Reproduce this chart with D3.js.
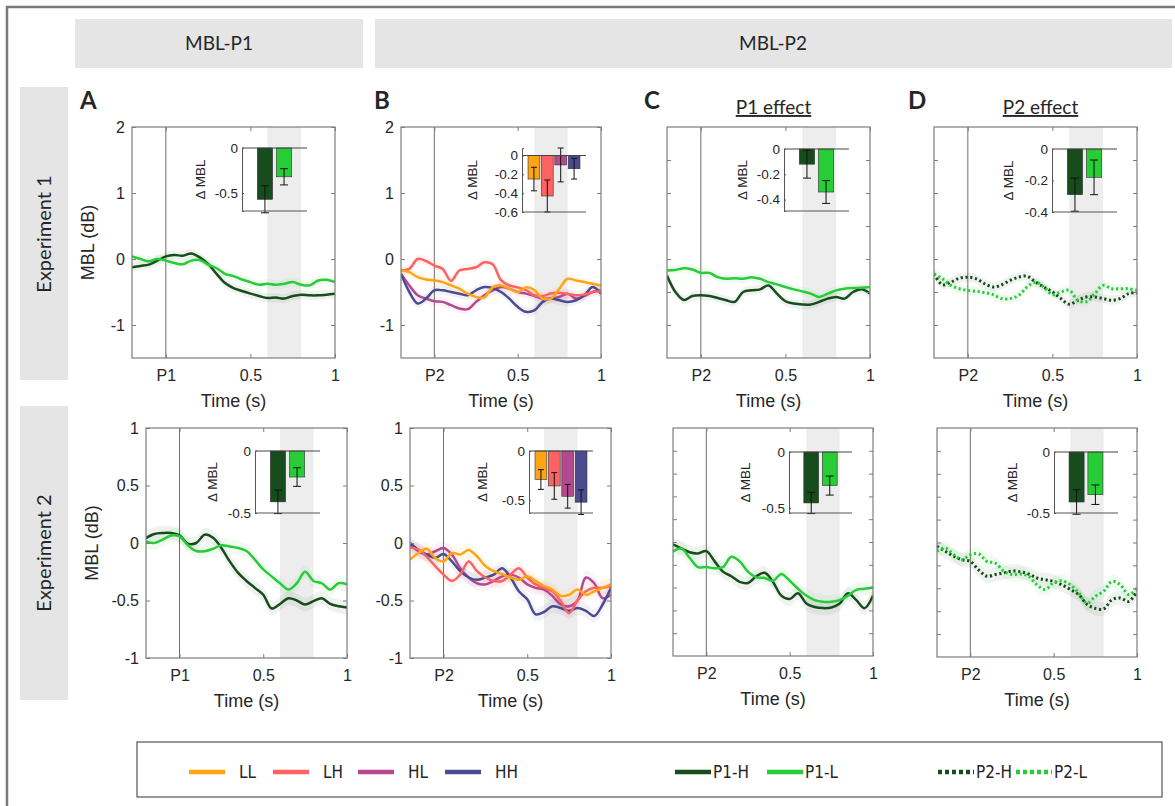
<!DOCTYPE html>
<html>
<head>
<meta charset="utf-8">
<script src="https://cdn.jsdelivr.net/npm/d3@7"></script>
<style>
body { margin: 0; background: #fff; }
svg text { font-family: "Liberation Sans", Arial, sans-serif; fill: #262626; }
svg text.cal { font-family: Lato, "Open Sans", sans-serif; }
svg text.narrow { font-family: "Liberation Sans Narrow", "DejaVu Sans Condensed", sans-serif; font-stretch: condensed; }
</style>
</head>
<body>
<svg id="fig" width="1175" height="806"></svg>
<script>
// time axis (s), 0 = tone onset (P1 or P2)
var timeGrid = [-0.2, -0.15, -0.1, -0.05, 0, 0.05, 0.1, 0.15, 0.2, 0.25, 0.3, 0.35, 0.4,
                0.45, 0.5, 0.55, 0.6, 0.65, 0.7, 0.75, 0.8, 0.85, 0.9, 0.95, 1];
var winStart = 0.6, winEnd = 0.8;   // analysis window (grey)

// ---- Experiment 1 ----
var e1A_P1H = [-0.125,-0.105,-0.085,-0.025,0.04,0.06,0.05,0.085,0.025,-0.075,-0.225,-0.365,-0.44,-0.485,-0.525,-0.56,-0.59,-0.585,-0.6,-0.56,-0.54,-0.55,-0.55,-0.54,-0.525];
var e1A_P1L = [0.04,0,-0.035,0,-0.025,-0.06,-0.08,-0.025,-0.015,-0.085,-0.14,-0.225,-0.26,-0.31,-0.35,-0.39,-0.375,-0.39,-0.375,-0.35,-0.39,-0.4,-0.325,-0.315,-0.35];

var e1B_LL = [-0.175,-0.2,-0.275,-0.31,-0.325,-0.35,-0.4,-0.45,-0.525,-0.575,-0.58,-0.43,-0.4,-0.45,-0.5,-0.43,-0.47,-0.6,-0.6,-0.45,-0.3,-0.325,-0.35,-0.375,-0.4];
var e1B_LH = [-0.175,-0.15,0.0,-0.03,-0.1,-0.15,-0.33,-0.175,-0.15,-0.125,-0.05,-0.08,-0.32,-0.4,-0.43,-0.47,-0.55,-0.56,-0.52,-0.51,-0.53,-0.55,-0.54,-0.5,-0.49];
var e1B_HL = [-0.225,-0.4,-0.55,-0.6,-0.64,-0.65,-0.7,-0.75,-0.76,-0.65,-0.55,-0.475,-0.425,-0.45,-0.5,-0.525,-0.56,-0.6,-0.6,-0.575,-0.525,-0.6,-0.56,-0.5,-0.475];
var e1B_HH = [-0.225,-0.5,-0.675,-0.6,-0.475,-0.475,-0.5,-0.525,-0.55,-0.475,-0.425,-0.44,-0.5,-0.6,-0.725,-0.8,-0.78,-0.65,-0.6,-0.625,-0.65,-0.625,-0.55,-0.425,-0.525];

var e1C_P1H = [-0.25,-0.5,-0.62,-0.56,-0.55,-0.56,-0.59,-0.625,-0.65,-0.5,-0.475,-0.46,-0.4,-0.525,-0.64,-0.675,-0.69,-0.69,-0.65,-0.6,-0.575,-0.6,-0.5,-0.46,-0.525];
var e1C_P1L = [-0.175,-0.165,-0.14,-0.16,-0.21,-0.21,-0.275,-0.3,-0.29,-0.3,-0.275,-0.3,-0.35,-0.385,-0.425,-0.46,-0.49,-0.525,-0.575,-0.525,-0.475,-0.45,-0.44,-0.435,-0.425];

var e1D_P2H = [-0.225,-0.39,-0.35,-0.29,-0.275,-0.3,-0.375,-0.425,-0.39,-0.325,-0.275,-0.26,-0.35,-0.425,-0.5,-0.6,-0.685,-0.625,-0.575,-0.575,-0.6,-0.625,-0.6,-0.525,-0.51];
var e1D_P2L = [-0.225,-0.3,-0.4,-0.45,-0.475,-0.49,-0.51,-0.54,-0.6,-0.6,-0.55,-0.425,-0.35,-0.425,-0.54,-0.5,-0.475,-0.625,-0.65,-0.525,-0.4,-0.45,-0.45,-0.45,-0.475];

// ---- Experiment 2 ----
var e2A_P1H = [0.043,0.078,0.087,0.087,0.066,-0.005,0.0,0.072,0.045,-0.043,-0.16,-0.26,-0.33,-0.39,-0.45,-0.57,-0.53,-0.48,-0.5,-0.535,-0.505,-0.48,-0.53,-0.55,-0.56];
var e2A_P1L = [0.014,0.0,0.03,0.066,0.058,-0.02,-0.07,-0.072,-0.05,-0.02,-0.03,-0.043,-0.07,-0.145,-0.23,-0.29,-0.35,-0.405,-0.35,-0.25,-0.33,-0.35,-0.405,-0.35,-0.36];

var e2B_LL = [-0.145,-0.087,-0.05,-0.13,-0.16,-0.087,-0.1,-0.06,-0.115,-0.2,-0.245,-0.27,-0.3,-0.32,-0.29,-0.33,-0.375,-0.405,-0.46,-0.45,-0.405,-0.45,-0.42,-0.39,-0.36];
var e2B_LH = [-0.04,-0.058,-0.12,-0.2,-0.275,-0.33,-0.275,-0.16,-0.245,-0.3,-0.33,-0.33,-0.275,-0.22,-0.3,-0.36,-0.39,-0.42,-0.505,-0.61,-0.5,-0.42,-0.39,-0.39,-0.375];
var e2B_HL = [-0.014,-0.072,-0.1,-0.072,-0.043,-0.1,-0.22,-0.3,-0.35,-0.36,-0.33,-0.29,-0.275,-0.3,-0.36,-0.39,-0.405,-0.46,-0.535,-0.55,-0.5,-0.3,-0.35,-0.48,-0.45];
var e2B_HH = [0.0,-0.058,-0.1,-0.13,-0.095,-0.16,-0.245,-0.3,-0.32,-0.3,-0.275,-0.22,-0.3,-0.42,-0.49,-0.62,-0.6,-0.55,-0.565,-0.59,-0.565,-0.59,-0.635,-0.535,-0.39];

var e2C_P1H = [-0.02,-0.056,-0.09,-0.1,-0.08,-0.17,-0.26,-0.3,-0.35,-0.36,-0.3,-0.27,-0.35,-0.47,-0.5,-0.45,-0.54,-0.57,-0.58,-0.575,-0.54,-0.45,-0.51,-0.58,-0.47];
var e2C_P1L = [-0.085,-0.056,-0.14,-0.22,-0.22,-0.23,-0.22,-0.13,-0.17,-0.26,-0.31,-0.315,-0.34,-0.28,-0.34,-0.41,-0.47,-0.51,-0.525,-0.525,-0.51,-0.47,-0.42,-0.41,-0.4];

var e2D_P2H = [-0.033,-0.077,-0.12,-0.15,-0.165,-0.24,-0.295,-0.28,-0.266,-0.25,-0.255,-0.275,-0.31,-0.325,-0.34,-0.37,-0.41,-0.455,-0.54,-0.575,-0.58,-0.5,-0.485,-0.515,-0.425];
var e2D_P2L = [-0.077,-0.048,-0.106,-0.15,-0.106,-0.1,-0.165,-0.18,-0.25,-0.28,-0.275,-0.295,-0.37,-0.41,-0.35,-0.335,-0.37,-0.44,-0.53,-0.47,-0.425,-0.34,-0.37,-0.455,-0.4];

// SEM half widths (dB) of the shaded bands
var semExp1 = 0.07, semExp2 = 0.06;

// inset bars: mean delta MBL in window, and error
var e1A_bars = [-0.57, -0.32],               e1A_err = [0.15, 0.09];
var e1B_bars = [-0.25, -0.43, -0.10, -0.14], e1B_err = [0.125, 0.17, 0.18, 0.11];
var e1C_bars = [-0.12, -0.34],               e1C_err = [0.11, 0.09];
var e1D_bars = [-0.29, -0.18],               e1D_err = [0.105, 0.11];
var e2A_bars = [-0.41, -0.21],               e2A_err = [0.095, 0.075];
var e2B_bars = [-0.29, -0.355, -0.46, -0.52], e2B_err = [0.1, 0.135, 0.12, 0.125];
var e2C_bars = [-0.455, -0.30],              e2C_err = [0.095, 0.085];
var e2D_bars = [-0.41, -0.35],               e2D_err = [0.1, 0.08];

// ticks
var xTicks = [0, 0.5, 1];
var yTicksExp1 = [-1, 0, 1, 2], yMinorExp1 = [-1, -0.5, 0, 0.5, 1, 1.5];
var yTicksExp2 = [-1, -0.5, 0, 0.5, 1], yMinorExp2 = [-0.8, -0.6, -0.4, -0.2, 0, 0.2, 0.4, 0.6, 0.8];

var legendLabels = ["LL", "LH", "HL", "HH", "P1-H", "P1-L", "P2-H", "P2-L"];

var col = {
    LL: "#ffa514", LH: "#ff6262", HL: "#b5488f", HH: "#4c4b8f",
    P1H: "#174d1c", P1L: "#27cc37"
};

var svg = d3.select("#fig");

// outer frame + header blocks
svg.append("rect").attr("x", 7).attr("y", 7).attr("width", 1200).attr("height", 900)
    .attr("fill", "none").attr("stroke", "#7a7a7a").attr("stroke-width", 2.5);

svg.append("rect").attr("x", 75).attr("y", 19).attr("width", 288).attr("height", 49).attr("fill", "#e5e5e5");
svg.append("rect").attr("x", 375).attr("y", 19).attr("width", 797).attr("height", 49).attr("fill", "#e5e5e5");
svg.append("text").attr("class", "cal").attr("x", 219).attr("y", 50).attr("text-anchor", "middle")
    .style("font-size", "19px").text("MBL-P1");
svg.append("text").attr("class", "cal").attr("x", 773).attr("y", 50).attr("text-anchor", "middle")
    .style("font-size", "19px").text("MBL-P2");

svg.append("rect").attr("x", 20).attr("y", 87).attr("width", 48).attr("height", 293).attr("fill", "#e5e5e5");
svg.append("rect").attr("x", 20).attr("y", 406).attr("width", 48).attr("height", 294).attr("fill", "#e5e5e5");
svg.append("text").attr("class", "cal").attr("transform", "translate(51,234) rotate(-90)")
    .attr("text-anchor", "middle").style("font-size", "20px").text("Experiment 1");
svg.append("text").attr("class", "cal").attr("transform", "translate(51,553) rotate(-90)")
    .attr("text-anchor", "middle").style("font-size", "20px").text("Experiment 2");

// panel layout
var panels = [
    { id: "A1", row: 1, x0: 132, x1: 335, y0: 127, y1: 358, marker: "P1", labels: true, letter: "A", lx: 80,
      series: [[e1A_P1H, col.P1H, false], [e1A_P1L, col.P1L, false]],
      bars: e1A_bars, errs: e1A_err, barCol: [col.P1H, col.P1L],
      inset: { x0: 242, x1: 307, y0: 148, y1: 211, lo: -0.7, hi: 0, ticks: [0, -0.5], off: 37 } },
    { id: "B1", row: 1, x0: 401, x1: 601, y0: 127, y1: 358, marker: "P2", labels: true, letter: "B", lx: 374,
      series: [[e1B_HL, col.HL, false], [e1B_HH, col.HH, false], [e1B_LH, col.LH, false], [e1B_LL, col.LL, false]],
      bars: e1B_bars, errs: e1B_err, barCol: [col.LL, col.LH, col.HL, col.HH],
      inset: { x0: 522, x1: 586, y0: 148, y1: 212, lo: -0.6, hi: 0.08, ticks: [0, -0.2, -0.4, -0.6], off: 45 } },
    { id: "C1", row: 1, x0: 667, x1: 870, y0: 127, y1: 358, marker: "P2", labels: false, letter: "C", lx: 644,
      title: "P1 effect", series: [[e1C_P1H, col.P1H, false], [e1C_P1L, col.P1L, false]],
      bars: e1C_bars, errs: e1C_err, barCol: [col.P1H, col.P1L],
      inset: { x0: 784, x1: 849, y0: 149, y1: 211, lo: -0.49, hi: 0, ticks: [0, -0.2, -0.4], off: 37 } },
    { id: "D1", row: 1, x0: 934, x1: 1137, y0: 127, y1: 358, marker: "P2", labels: false, letter: "D", lx: 908,
      title: "P2 effect", series: [[e1D_P2H, col.P1H, true], [e1D_P2L, col.P1L, true]],
      bars: e1D_bars, errs: e1D_err, barCol: [col.P1H, col.P1L],
      inset: { x0: 1052, x1: 1117, y0: 149, y1: 212, lo: -0.4, hi: 0, ticks: [0, -0.2, -0.4], off: 39 } },
    { id: "A2", row: 2, x0: 146, x1: 347, y0: 428, y1: 658, marker: "P1", labels: true,
      series: [[e2A_P1H, col.P1H, false], [e2A_P1L, col.P1L, false]],
      bars: e2A_bars, errs: e2A_err, barCol: [col.P1H, col.P1L],
      inset: { x0: 255, x1: 320, y0: 451, y1: 513, lo: -0.5, hi: 0, ticks: [0, -0.5], off: 38 } },
    { id: "B2", row: 2, x0: 410, x1: 611, y0: 428, y1: 658, marker: "P2", labels: true,
      series: [[e2B_HL, col.HL, false], [e2B_HH, col.HH, false], [e2B_LH, col.LH, false], [e2B_LL, col.LL, false]],
      bars: e2B_bars, errs: e2B_err, barCol: [col.LL, col.LH, col.HL, col.HH],
      inset: { x0: 529, x1: 593, y0: 451, y1: 513, lo: -0.63, hi: 0, ticks: [0, -0.5], off: 42 } },
    { id: "C2", row: 2, x0: 673, x1: 873, y0: 428, y1: 656, marker: "P2", labels: false,
      series: [[e2C_P1H, col.P1H, false], [e2C_P1L, col.P1L, false]],
      bars: e2C_bars, errs: e2C_err, barCol: [col.P1H, col.P1L],
      inset: { x0: 789, x1: 852, y0: 452, y1: 513, lo: -0.545, hi: 0, ticks: [0, -0.5], off: 39 } },
    { id: "D2", row: 2, x0: 937, x1: 1137, y0: 428, y1: 657, marker: "P2", labels: false,
      series: [[e2D_P2H, col.P1H, true], [e2D_P2L, col.P1L, true]],
      bars: e2D_bars, errs: e2D_err, barCol: [col.P1H, col.P1L],
      inset: { x0: 1054, x1: 1118, y0: 452, y1: 513, lo: -0.5, hi: 0, ticks: [0, -0.5], off: 37 } }
];

var axisGrey = "#7d7d7d";

function styleAxis(sel) {
    sel.select(".domain").remove();
    sel.selectAll(".tick line").attr("stroke", axisGrey);
    sel.selectAll(".tick text").style("font-size", "16px").attr("fill", "#262626");
}

function drawPanel(p) {
    var g = svg.append("g");
    var yDom = p.row === 1 ? [-1.5, 2] : [-1, 1];
    var x = d3.scaleLinear().domain([-0.2, 1]).range([p.x0, p.x1]);
    var y = d3.scaleLinear().domain(yDom).range([p.y1, p.y0]);
    var sem = p.row === 1 ? semExp1 : semExp2;

    svg.append("clipPath").attr("id", "clip" + p.id).append("rect")
        .attr("x", p.x0).attr("y", p.y0).attr("width", p.x1 - p.x0).attr("height", p.y1 - p.y0);

    // analysis window
    g.append("rect").attr("x", x(winStart)).attr("y", p.y0)
        .attr("width", x(winEnd) - x(winStart)).attr("height", p.y1 - p.y0).attr("fill", "#ededed");
    // onset
    g.append("line").attr("x1", x(0)).attr("x2", x(0)).attr("y1", p.y0).attr("y2", p.y1)
        .attr("stroke", "#6f6f6f").attr("stroke-width", 1);

    var plot = g.append("g").attr("clip-path", "url(#clip" + p.id + ")");
    var area = d3.area().curve(d3.curveCatmullRom)
        .x(function (d, i) { return x(timeGrid[i]); })
        .y0(function (d) { return y(d - sem); })
        .y1(function (d) { return y(d + sem); });
    var line = d3.line().curve(d3.curveCatmullRom)
        .x(function (d, i) { return x(timeGrid[i]); })
        .y(function (d) { return y(d); });

    p.series.forEach(function (s) {
        plot.append("path").attr("d", area(s[0])).attr("fill", s[1]).attr("fill-opacity", 0.07);
    });
    p.series.forEach(function (s) {
        plot.append("path").attr("d", line(s[0])).attr("fill", "none").attr("stroke", s[1])
            .attr("stroke-width", s[2] ? 3 : 2.5)
            .attr("stroke-dasharray", s[2] ? "2.2,2.6" : null);
    });

    // axes, MATLAB style: ticks inside, on all four sides
    var yTicks = p.labels ? (p.row === 1 ? yTicksExp1 : yTicksExp2) : (p.row === 1 ? yMinorExp1 : yMinorExp2);
    g.append("g").attr("transform", "translate(" + p.x0 + ",0)")
        .call(d3.axisLeft(y).tickValues(yTicks).tickSize(-4).tickPadding(7)
            .tickFormat(p.labels ? function (d) { return String(d); } : ""))
        .call(styleAxis);
    g.append("g").attr("transform", "translate(" + p.x1 + ",0)")
        .call(d3.axisRight(y).tickValues(yTicks).tickSize(-4).tickFormat(""))
        .call(styleAxis);
    g.append("g").attr("transform", "translate(0," + p.y1 + ")")
        .call(d3.axisBottom(x).tickValues(xTicks).tickSize(-4).tickPadding(12)
            .tickFormat(function (d) { return d === 0 ? p.marker : String(d); }))
        .call(styleAxis);
    g.append("g").attr("transform", "translate(0," + p.y0 + ")")
        .call(d3.axisTop(x).tickValues(xTicks).tickSize(-4).tickFormat(""))
        .call(styleAxis);
    g.append("rect").attr("x", p.x0).attr("y", p.y0).attr("width", p.x1 - p.x0).attr("height", p.y1 - p.y0)
        .attr("fill", "none").attr("stroke", axisGrey).attr("stroke-width", 1.2);

    g.append("text").attr("x", (p.x0 + p.x1) / 2).attr("y", p.y1 + 49).attr("text-anchor", "middle")
        .style("font-size", "18px").text("Time (s)");
    if (p.id === "A1" || p.id === "A2") {
        var lxp = p.x0 - (p.row === 1 ? 38 : 48);
        g.append("text").attr("transform", "translate(" + lxp + "," + ((p.y0 + p.y1) / 2) + ") rotate(-90)")
            .attr("text-anchor", "middle").style("font-size", "18px").text("MBL (dB)");
    }
    if (p.letter) {
        g.append("text").attr("class", "cal").attr("x", p.lx).attr("y", 109)
            .style("font-size", "24px").style("font-weight", 700).attr("fill", "#000").text(p.letter);
    }
    if (p.title) {
        g.append("text").attr("class", "cal").attr("x", (p.x0 + p.x1) / 2 + 5).attr("y", 114)
            .attr("text-anchor", "middle").style("font-size", "19px")
            .style("text-decoration", "underline").text(p.title);
    }

    drawInset(g, p);
}

function drawInset(g, p) {
    var s = p.inset;
    var n = p.bars.length;
    var xb = d3.scaleBand().domain(d3.range(n)).range([s.x0, s.x1])
        .paddingInner(n === 2 ? 0.2 : 0.12).paddingOuter(n === 2 ? 0.8 : 0.45);
    var yb = d3.scaleLinear().domain([s.lo, s.hi]).range([s.y1, s.y0]);

    var ig = g.append("g");
    p.bars.forEach(function (v, i) {
        ig.append("rect").attr("x", xb(i)).attr("width", xb.bandwidth())
            .attr("y", yb(0)).attr("height", yb(v) - yb(0))
            .attr("fill", p.barCol[i]).attr("stroke", "#333").attr("stroke-width", 0.6);
    });
    p.bars.forEach(function (v, i) {
        var cx = xb(i) + xb.bandwidth() / 2, e = p.errs[i];
        var cap = n === 2 ? 4 : 3;
        ig.append("line").attr("x1", cx).attr("x2", cx).attr("y1", yb(v - e)).attr("y2", yb(v + e))
            .attr("stroke", "#111").attr("stroke-width", 1);
        [v - e, v + e].forEach(function (w) {
            ig.append("line").attr("x1", cx - cap).attr("x2", cx + cap).attr("y1", yb(w)).attr("y2", yb(w))
                .attr("stroke", "#111").attr("stroke-width", 1);
        });
    });
    // baseline, left and bottom axis lines
    ig.append("line").attr("x1", s.x0).attr("x2", s.x1).attr("y1", yb(0)).attr("y2", yb(0))
        .attr("stroke", "#444").attr("stroke-width", 1);
    ig.append("line").attr("x1", s.x0).attr("x2", s.x1).attr("y1", s.y1).attr("y2", s.y1)
        .attr("stroke", "#555").attr("stroke-width", 1);
    ig.append("g").attr("transform", "translate(" + s.x0 + ",0)")
        .call(d3.axisLeft(yb).tickValues(s.ticks).tickSize(-2).tickPadding(4)
            .tickFormat(function (d) { return String(d); }))
        .call(function (a) {
            a.select(".domain").attr("stroke", "#555");
            a.selectAll(".tick line").attr("stroke", "#555");
            a.selectAll(".tick text").style("font-size", "13.5px").attr("fill", "#262626");
        });
    ig.append("text").attr("transform", "translate(" + (s.x0 - s.off) + "," + ((s.y0 + s.y1) / 2) + ") rotate(-90)")
        .attr("text-anchor", "middle").style("font-size", "13.5px").text("\u0394 MBL");
}

panels.forEach(drawPanel);

// legend
var lg = svg.append("g");
lg.append("rect").attr("x", 137).attr("y", 742).attr("width", 1025).attr("height", 55)
    .attr("fill", "#fff").attr("stroke", "#333").attr("stroke-width", 1);
var legendItems = [
    { c: col.LL, x: 189, dot: false }, { c: col.LH, x: 273, dot: false },
    { c: col.HL, x: 358, dot: false }, { c: col.HH, x: 445, dot: false },
    { c: col.P1H, x: 675, dot: false }, { c: col.P1L, x: 767, dot: false },
    { c: col.P1H, x: 938, dot: true }, { c: col.P1L, x: 1016, dot: true }
];
legendItems.forEach(function (it, i) {
    var ly = 772;
    lg.append("line").attr("x1", it.x).attr("x2", it.x + 36).attr("y1", ly).attr("y2", ly)
        .attr("stroke", it.c).attr("stroke-width", 4.5)
        .attr("stroke-dasharray", it.dot ? "4,3" : null);
    lg.append("text").attr("class", "narrow").attr("x", it.x + (i < 4 ? 50 : 38)).attr("y", ly + 6)
        .style("font-size", "17px").text(legendLabels[i]);
});
</script>
</body>
</html>
